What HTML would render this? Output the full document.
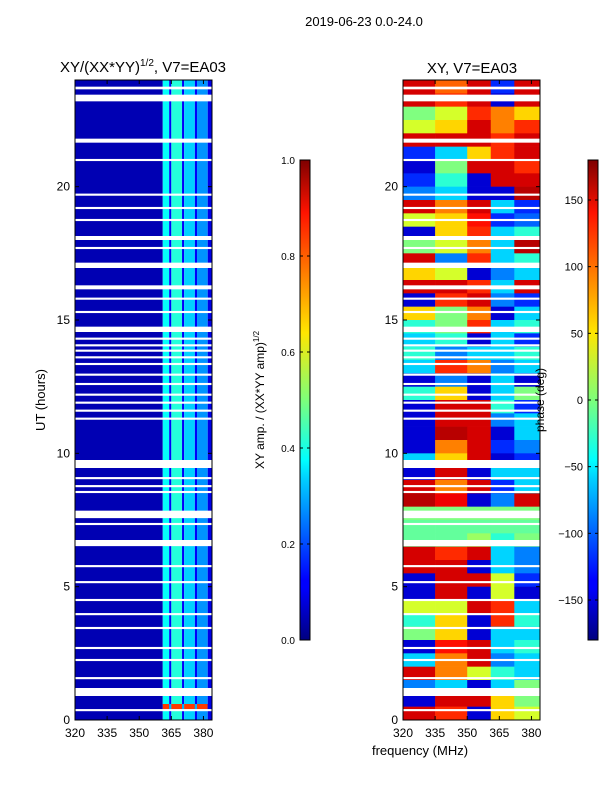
<!DOCTYPE html>
<html><head><meta charset="utf-8"><style>
body{margin:0;background:#fff;font-family:"Liberation Sans","DejaVu Sans",sans-serif}
svg text{font-family:"Liberation Sans","DejaVu Sans",sans-serif;fill:#000}
</style></head><body>
<svg id="fig" width="600" height="800" viewBox="0 0 600 800" xmlns="http://www.w3.org/2000/svg">
<defs>
<linearGradient id="jet" x1="0" y1="1" x2="0" y2="0">
<stop offset="0" stop-color="#00007f"/><stop offset="0.11" stop-color="#0000ff"/><stop offset="0.125" stop-color="#0000ff"/>
<stop offset="0.34" stop-color="#00d4ff"/><stop offset="0.375" stop-color="#00ffff"/><stop offset="0.5" stop-color="#7dff7a"/>
<stop offset="0.64" stop-color="#ffe600"/><stop offset="0.89" stop-color="#ff1300"/><stop offset="1" stop-color="#7f0000"/>
</linearGradient>
</defs>
<text x="364" y="26" font-size="13" text-anchor="middle">2019-06-23 0.0-24.0</text>
<text x="143" y="72" font-size="15" text-anchor="middle">XY/(XX*YY)<tspan font-size="10" dy="-6">1/2</tspan><tspan dy="6">, V7=EA03</tspan></text>
<text x="472" y="73" font-size="15" text-anchor="middle">XY, V7=EA03</text>
<g id="ampPanel"></g>
<g id="phPanel"></g>
<text transform="translate(45,400) rotate(-90)" font-size="13" text-anchor="middle">UT (hours)</text>
<text x="420" y="755" font-size="13" text-anchor="middle">frequency (MHz)</text>
<rect x="300" y="160" width="10" height="480" fill="url(#jet)" stroke="#000" stroke-width="1"/>
<rect x="588" y="160" width="10" height="480" fill="url(#jet)" stroke="#000" stroke-width="1"/>
<text transform="translate(264,400) rotate(-90)" font-size="12" text-anchor="middle">XY amp. / (XX*YY amp)<tspan font-size="8" dy="-5">1/2</tspan></text>
<text transform="translate(544,400) rotate(-90)" font-size="12" text-anchor="middle">phase (deg)</text>
<g id="cbticks"></g>
</svg>
<script>
const freqEdges=[320,335,350,361,372,384];
const phaseRows=[
[150,100,150,-120,150],[150,120,150,-150,150],[0,30,120,90,60],[30,60,150,90,120],
[150,150,150,120,150],[-120,-60,60,120,150],[-150,0,150,150,120],[-120,-30,-150,150,150],
[-90,-60,-150,-150,160],[150,90,150,-60,-120],[30,60,130,-120,-100],[-150,60,120,-60,-30],
[0,30,90,-60,160],[150,-90,120,-60,-30],[60,30,-150,-90,-60],[150,150,120,-60,150],
[-150,120,150,-90,-120],[60,0,90,-150,-60],[-30,0,120,-60,-30],[-60,-30,-150,-60,-120],
[-30,-90,-60,-60,-30],[-60,120,90,-90,-60],[-150,-90,-150,-60,-150],[-30,60,-150,-60,0],
[-150,150,150,-30,-120],[-150,150,150,-90,-60],[-150,160,150,-150,-60],[-150,90,150,-120,-90],
[-60,60,150,-150,-120],[-150,150,-150,-60,-60],[150,90,150,-120,-60],[160,140,-150,-90,150],
[0,0,0,0,0],[-10,-10,-10,-10,-10],[-10,-10,10,-30,0],[150,120,150,-60,-90],
[150,150,-150,-60,-90],[-150,150,150,30,-120],[-150,150,-150,30,-150],[30,30,150,120,-60],
[-30,60,-150,120,-30],[0,60,-150,-60,-60],[-150,130,150,-60,-30],[-60,90,150,-90,-60],
[150,90,30,-30,-60],[-90,-60,-150,-60,0],[-150,150,150,60,0],[150,120,-150,60,30]];
const ampEdges=[320,361,364,365,370,371,376,377,382,384];
const ampValues=[0.05,0.38,0.12,0.41,0.12,0.33,0.12,0.27,0.1];
const ampBottomValues=[0.05,0.82,0.3,0.82,0.3,0.82,0.3,0.82,0.1];
const flags=[[23.65,23.75],[23.2,23.45],[21.65,21.8],[20.96,21.04],[19.66,19.74],[19.16,19.24],[18.71,18.79],[18.0,18.15],[17.66,17.74],[16.95,17.15],[16.15,16.3],[15.76,15.84],[15.26,15.34],[14.55,14.75],[14.26,14.34],[14.01,14.09],[13.81,13.89],[13.56,13.64],[13.31,13.39],[12.91,12.99],[12.56,12.64],[12.16,12.24],[11.86,11.94],[11.56,11.64],[11.26,11.34],[9.45,9.75],[9.03,9.11],[8.73,8.81],[8.51,8.59],[7.57,7.85],[7.31,7.39],[6.52,6.75],[5.73,5.81],[5.13,5.21],[4.46,4.54],[3.93,4.01],[3.41,3.49],[2.66,2.74],[2.21,2.29],[1.53,1.61],[0.9,1.2],[0.33,0.41]];
const yTicks=[0,5,10,15,20];
const xTicks=[320,335,350,365,380];
const ampCbTicks=[0.0,0.2,0.4,0.6,0.8,1.0];
const phCbTicks=[-150,-100,-50,0,50,100,150];

const NS="http://www.w3.org/2000/svg";
function jet(t){t=Math.max(0,Math.min(1,t));
 const r=Math.min(4*t-1.5,-4*t+4.5),g=Math.min(4*t-0.5,-4*t+3.5),b=Math.min(4*t+0.5,-4*t+2.5);
 const c=v=>Math.round(255*Math.max(0,Math.min(1,v)));return `rgb(${c(r)},${c(g)},${c(b)})`;}
function el(tag,attrs,parent){const e=document.createElementNS(NS,tag);for(const k in attrs)e.setAttribute(k,attrs[k]);parent.appendChild(e);return e;}
const Y0=720,Y1=80,HMAX=24;
const yOf=h=>Y0-(h/HMAX)*(Y0-Y1);
function panel(g,x0,x1){
 const xOf=f=>x0+(f-320)/(384-320)*(x1-x0);
 return xOf;
}
const fig=document.getElementById('fig');
const ga=document.getElementById('ampPanel');
const xA=panel(ga,75,212);
for(let j=0;j<ampValues.length;j++){
 const r=el('rect',{x:xA(ampEdges[j]),y:Y1,width:xA(ampEdges[j+1])-xA(ampEdges[j]),height:Y0-Y1,fill:jet(ampValues[j])},ga);
 
 
 const b=el('rect',{x:xA(ampEdges[j]),y:yOf(0.6),width:xA(ampEdges[j+1])-xA(ampEdges[j]),height:yOf(0.4)-yOf(0.6),fill:jet(ampBottomValues[j])},ga);
 
 
}
const gp=document.getElementById('phPanel');
const xP=panel(gp,403,540);
phaseRows.forEach((row,i)=>{
 const hTop=HMAX-i*0.5,hBot=hTop-0.5;
 row.forEach((v,j)=>{
  const r=el('rect',{x:xP(freqEdges[j]),y:yOf(hTop),width:xP(freqEdges[j+1])-xP(freqEdges[j])+0.3,height:yOf(hBot)-yOf(hTop)+0.3,fill:jet((v+180)/360)},gp);
  
  
 });
});
[[ga,xA,75,212],[gp,xP,403,540]].forEach(([g,xOf,x0,x1],pi)=>{
 flags.forEach(f=>{
  const r=el('rect',{x:x0,y:yOf(f[1]),width:x1-x0,height:yOf(f[0])-yOf(f[1]),fill:'#fff'},g);
  
  
 });
 const fr=el('rect',{x:x0,y:Y1,width:x1-x0,height:Y0-Y1,fill:'none',stroke:'#000','stroke-width':1},g);
 
 
 yTicks.forEach(t=>{
  const y=yOf(t);
  el('line',{x1:x0,x2:x0+4,y1:y,y2:y,stroke:'#000'},g);
  el('line',{x1:x1,x2:x1-4,y1:y,y2:y,stroke:'#000'},g);
  const tx=el('text',{x:x0-5,y:y+4,'font-size':12,'text-anchor':'end'},g);tx.textContent=t;
  
  
 });
 xTicks.forEach(t=>{
  const x=xOf(t);
  el('line',{x1:x,x2:x,y1:Y0,y2:Y0-4,stroke:'#000'},g);
  el('line',{x1:x,x2:x,y1:Y1,y2:Y1+4,stroke:'#000'},g);
  const tx=el('text',{x:x,y:Y0+17,'font-size':12,'text-anchor':'middle'},g);tx.textContent=t;
  
  
 });
});
const gc=document.getElementById('cbticks');
ampCbTicks.forEach(t=>{
 const y=640-t*480;
 el('line',{x1:300,x2:303,y1:y,y2:y,stroke:'#000'},gc);el('line',{x1:310,x2:307,y1:y,y2:y,stroke:'#000'},gc);
 const tx=el('text',{x:295,y:y+4,'font-size':10,'text-anchor':'end'},gc);tx.textContent=t.toFixed(1);
 
 
});
phCbTicks.forEach(t=>{
 const y=400-t*480/360;
 el('line',{x1:588,x2:591,y1:y,y2:y,stroke:'#000'},gc);el('line',{x1:598,x2:595,y1:y,y2:y,stroke:'#000'},gc);
 const tx=el('text',{x:583,y:y+4,'font-size':11,'text-anchor':'end'},gc);tx.textContent=t<0?'\u2212'+(-t):t;
 
 
});
</script>
</body></html>
